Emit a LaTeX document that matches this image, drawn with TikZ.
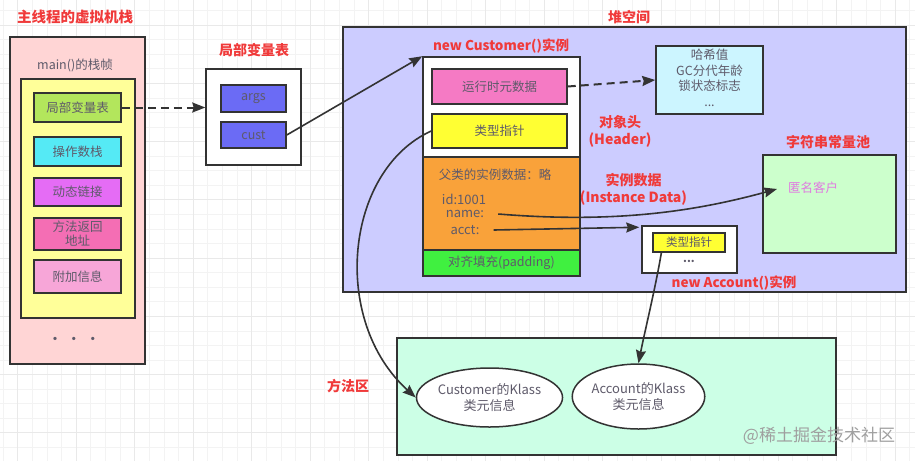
\documentclass[tikz,border=0pt]{standalone}
\usepackage{fontspec}
\setmainfont{Noto Sans CJK SC}
\usetikzlibrary{arrows.meta,shapes.geometric,calc}
\definecolor{lineC}{HTML}{333333}
\definecolor{redC}{HTML}{F03A3A}
\definecolor{txtC}{HTML}{5E5A6A}
\definecolor{gridA}{HTML}{F3F3F3}
\definecolor{gridB}{HTML}{E9E9E9}
\definecolor{stackC}{HTML}{FFD5D5}
\definecolor{frameC}{HTML}{FFFF99}
\definecolor{lvC}{HTML}{B3E65C}
\definecolor{opsC}{HTML}{55EAF5}
\definecolor{dynC}{HTML}{E56CF5}
\definecolor{retC}{HTML}{F46EB4}
\definecolor{addC}{HTML}{F7A6D8}
\definecolor{varC}{HTML}{6B6BF5}
\definecolor{heapC}{HTML}{CCCCFF}
\definecolor{metaC}{HTML}{F57AC4}
\definecolor{ptrC}{HTML}{FFFF33}
\definecolor{orangeC}{HTML}{F9A23A}
\definecolor{padC}{HTML}{40F040}
\definecolor{hashC}{HTML}{CCF5FF}
\definecolor{poolC}{HTML}{CCFFCC}
\definecolor{methC}{HTML}{CCFFE6}
\definecolor{anonC}{HTML}{E07AE0}
\tikzset{
  bx/.style={draw=lineC, line width=1.5pt, inner sep=0pt, align=center, text=txtC,
    font=\fontsize{12.5}{15}\selectfont},
  ttl/.style={text=redC, font=\bfseries\fontsize{14}{17}\selectfont, inner sep=0pt, align=center},
  plain/.style={text=txtC, font=\fontsize{12.5}{15}\selectfont, inner sep=0pt, align=center},
  arr/.style={draw=lineC, line width=1.6pt, -{Stealth[length=13pt,width=10pt,inset=1.5pt]}},
  darr/.style={arr, line width=2pt, dash pattern=on 8pt off 5pt},
}
\begin{document}
\begin{tikzpicture}[x=1pt,y=-1pt]
\useasboundingbox (0,0) rectangle (915,461);
\fill[white] (0,0) rectangle (915,461);
% grid
\foreach \i in {0,...,62} {\draw[gridA, line width=0.5pt] (2.9+\i*14.625,0) -- (2.9+\i*14.625,461);}
\foreach \i in {0,...,31} {\draw[gridA, line width=0.5pt] (0,10.4+\i*14.5625) -- (915,10.4+\i*14.5625);}
\foreach \i in {0,...,15} {\draw[gridB, line width=0.6pt] (17.5+\i*58.5,0) -- (17.5+\i*58.5,461);}
\foreach \i in {0,...,7} {\draw[gridB, line width=0.6pt] (0,25+\i*58.25) -- (915,25+\i*58.25);}

% ---- stack ----
\node[ttl, font=\bfseries\fontsize{14.5}{17}\selectfont] (tStack) at (75,17) {主线程的虚拟机栈};
\node[bx, fill=stackC, minimum width=135pt, minimum height=327pt] (stack) at (77.5,200.5) {};
\node[plain] (tFrame) at (75,65) {main()的栈帧};
\node[bx, fill=frameC, minimum width=114pt, minimum height=239pt] (frame) at (78,198.5) {};
\node[bx, fill=lvC, minimum width=87pt, minimum height=29pt] (lv) at (77.5,107.5) {局部变量表};
\node[bx, fill=opsC, minimum width=87pt, minimum height=29pt] (ops) at (77.5,151.5) {操作数栈};
\node[bx, fill=dynC, minimum width=87pt, minimum height=28pt] (dyn) at (77.5,192) {动态链接};
\node[bx, fill=retC, minimum width=87pt, minimum height=32pt, font=\fontsize{12.5}{14}\selectfont] (ret) at (77.5,234) {方法返回\\地址};
\node[bx, fill=addC, minimum width=87pt, minimum height=33pt] (add) at (77.5,276.5) {附加信息};
\node[plain, font=\bfseries\fontsize{12}{14}\selectfont] (dots) at (74,340) {·\hspace{7pt}·\hspace{7pt}·};

% ---- local variable table ----
\node[ttl] (tLv) at (254,50) {局部变量表};
\node[bx, fill=white, minimum width=95pt, minimum height=96pt] (lvbox) at (253.5,117) {};
\node[bx, fill=varC, minimum width=65pt, minimum height=27pt] (args) at (253.5,98.5) {args};
\node[bx, fill=varC, minimum width=65pt, minimum height=26pt] (cust) at (253.5,135) {cust};

% ---- heap ----
\node[ttl] (tHeap) at (629,17) {堆空间};
\node[bx, fill=heapC, minimum width=563pt, minimum height=265pt] (heap) at (624.5,159.5) {};
\node[ttl, font=\bfseries\fontsize{13.5}{16}\selectfont] (tCust) at (501,46) {new Customer()实例};
\node[bx, fill=white, minimum width=157pt, minimum height=100pt] (cobj) at (501.5,107) {};
\node[bx, fill=metaC, minimum width=135pt, minimum height=35pt] (meta) at (499.5,86.5) {运行时元数据};
\node[bx, fill=ptrC, minimum width=135pt, minimum height=34pt] (tp) at (499.5,131) {类型指针};
\node[bx, fill=orangeC, minimum width=157pt, minimum height=93pt] (inst) at (501.5,203.5) {};
\node[plain, font=\fontsize{12.5}{15}\selectfont] (super) at (495,175) {父类的实例数据：略};
\node[plain, font=\fontsize{13}{15}\selectfont] (id) at (464,199) {id:1001};
\node[plain, font=\fontsize{13}{15}\selectfont] (nm) at (465,214) {name:};
\node[plain, font=\fontsize{13}{15}\selectfont] (ac) at (465,230) {acct:};
\node[bx, fill=padC, minimum width=157pt, minimum height=26pt] (pad) at (501.5,263) {对齐填充(padding)};

\node[ttl] (tHdr) at (620,131) {对象头\\(Header)};
\node[ttl] (tData) at (633.5,189) {实例数据\\(Instance Data)};

\node[bx, fill=hashC, minimum width=107pt, minimum height=68pt] (hash) at (709.5,80) {};
\node[plain, font=\fontsize{12.5}{15.5}\selectfont] (hashT) at (709.5,78) {哈希值\\GC分代年龄\\锁状态标志\\...};

\node[ttl] (tPool) at (828,142) {字符串常量池};
\node[bx, fill=poolC, minimum width=133pt, minimum height=98pt] (pool) at (829.5,204) {};
\node[plain, text=anonC, font=\fontsize{12.5}{15}\selectfont] (anon) at (813,188) {匿名客户};

\node[bx, fill=white, minimum width=95pt, minimum height=47pt] (acbox) at (689.5,249.5) {};
\node[bx, fill=ptrC, minimum width=72pt, minimum height=19pt, line width=1.2pt, font=\fontsize{11.5}{13}\selectfont] (atp) at (689,242.5) {类型指针};
\node[plain, font=\bfseries\fontsize{11}{13}\selectfont] (adots) at (689,261) {...};
\node[ttl, font=\bfseries\fontsize{13.5}{16}\selectfont] (tAcc) at (734,283) {new Account()实例};

% ---- method area ----
\node[ttl] (tMeth) at (348,386) {方法区};
\node[bx, fill=methC, minimum width=439pt, minimum height=117pt] (meth) at (616.5,396.5) {};
\node[bx, ellipse, fill=white, minimum width=131pt, minimum height=59pt, font=\fontsize{13}{16}\selectfont] (cklass) at (489.5,397.5) {Customer的Klass\\类元信息};
\node[bx, ellipse, fill=white, minimum width=121pt, minimum height=65pt, font=\fontsize{13}{16}\selectfont] (aklass) at (638.5,396.5) {Account的Klass\\类元信息};
\node[text=gray!75, font=\fontsize{17}{20}\selectfont, inner sep=0pt] (wm) at (819,436) {@稀土掘金技术社区};

% ---- connectors ----
\draw[darr] (lv.east) -- (lv.east -| lvbox.west);
\draw[arr] (cust.east) -- (cobj.north west);
\draw[darr] (meta.east) -- (hash.west);
\draw[arr] (tp.west) .. controls (345,170) and (330,320) .. (cklass.west);
\coordinate (nmS) at ($(nm.east)+(14,0)$);
\coordinate (acS) at ($(ac.east)+(14,0)$);
\coordinate (poolIn) at (777,189);
\coordinate (acIn) at ($(acbox.north west)+(-2,2)$);
\draw[arr] (nmS) .. controls (620,224) and (700,210) .. (poolIn);
\draw[arr] (acS) -- (acIn);
\coordinate (atpS) at ($(atp.south west)+(9,0)$);
\draw[arr] (atpS) .. controls (655,290) and (645,330) .. (aklass.north);
\end{tikzpicture}
\end{document}
